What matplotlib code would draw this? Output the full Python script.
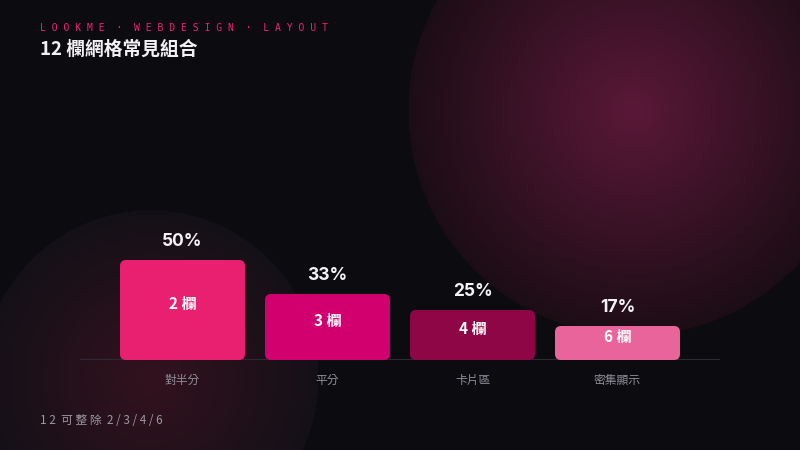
import numpy as np
import matplotlib
matplotlib.use("Agg")
import matplotlib.pyplot as plt
from matplotlib.patches import FancyBboxPatch
from matplotlib.colors import to_rgb

categories = ["對半分", "平分", "卡片區", "密集顯示"]
values = [50, 33, 25, 17]
inner_labels = ["2 欄", "3 欄", "4 欄", "6 欄"]
value_labels = ["50%", "33%", "25%", "17%"]
bar_colors = ["#e91f70", "#d2006f", "#8f0647", "#e8649a"]

W, H = 800, 450
fig = plt.figure(figsize=(8, 4.5), dpi=100)

# background with two radial glows
bg = np.array(to_rgb("#0c0b10"))
yy, xx = np.mgrid[0:H, 0:W]
img = np.ones((H, W, 3)) * bg

def glow(img, cx, cy, r, c_center, c_edge):
    d = np.sqrt((xx - cx) ** 2 + (yy - cy) ** 2)
    t = np.clip(d / r, 0, 1)[..., None]
    cc = np.array(to_rgb(c_center)); ce = np.array(to_rgb(c_edge))
    col = cc * (1 - t) + ce * t
    inside = (d <= r)[..., None]
    return np.where(inside, col, img)

img = glow(img, 150, 378, 168, "#33121f", "#141017")
img = glow(img, 633, 110, 225, "#5a1838", "#1c0d15")

axbg = fig.add_axes([0, 0, 1, 1])
axbg.imshow(img, extent=[0, W, H, 0], aspect="auto", interpolation="bilinear")
axbg.set_xlim(0, W); axbg.set_ylim(H, 0)
axbg.axis("off")

CJK = ["Noto Sans CJK TC", "DejaVu Sans"]

# chart axes: x from 80 to 720 px, y baseline at 360 px, 2 px per unit
left_px, right_px, base_px, top_px = 80, 720, 360, 60
ax = fig.add_axes([left_px / W, (H - base_px) / H, (right_px - left_px) / W, (base_px - top_px) / H])
ax.patch.set_alpha(0)
step = 145.0
x0 = (left_px - 182.5) / step
x1 = (right_px - 182.5) / step
ax.set_xlim(x0, x1)
ax.set_ylim(0, (base_px - top_px) / 2)
for s in ax.spines.values():
    s.set_visible(False)
ax.set_xticks([]); ax.set_yticks([])

bw = 125 / step
px_x = 1 / step   # data x per px
px_y = 0.5        # data y per px
r = 6 * px_x
for i, (v, c) in enumerate(zip(values, bar_colors)):
    p = FancyBboxPatch((i - bw / 2, 0), bw, v,
                       boxstyle=f"round,pad=0,rounding_size={r}",
                       mutation_aspect=px_y / px_x,
                       facecolor=c, edgecolor="none", zorder=3)
    ax.add_patch(p)
    ax.text(i, v + 18 * px_y, value_labels[i], ha="center", va="center",
            color="#f4f2f5", fontsize=12.5, fontweight="bold",
            family=["Inter", "DejaVu Sans"], zorder=4)
    ax.text(i, v / 2 + 6 * px_y, inner_labels[i], ha="center", va="center",
            color="white", fontsize=11, fontweight="bold", family=CJK, zorder=4)
    ax.text(i, -20 * px_y, categories[i], ha="center", va="center",
            color="#8f8d97", fontsize=8.5, family=CJK, clip_on=False)

ax.axhline(0, color="#2c2a32", lw=1.6, zorder=2)

# header texts
fig.text(40 / W, 1 - 28 / H, "L O O K M E  ·  W E B D E S I G N  ·  L A Y O U T",
         color="#ee2470", fontsize=7, family="DejaVu Sans Mono",
         va="center", ha="left")
fig.text(40 / W, 1 - 49 / H, "12 欄網格常見組合", color="#f2f0f3", fontsize=13.5,
         fontweight="bold", family=CJK, va="center", ha="left")
fig.text(40 / W, 1 - 420 / H, "1 2  可 整 除  2 / 3 / 4 / 6", color="#9a98a2",
         fontsize=8.5, family=CJK, va="center", ha="left")

fig.savefig("out.png", dpi=100, facecolor=fig.get_facecolor())
